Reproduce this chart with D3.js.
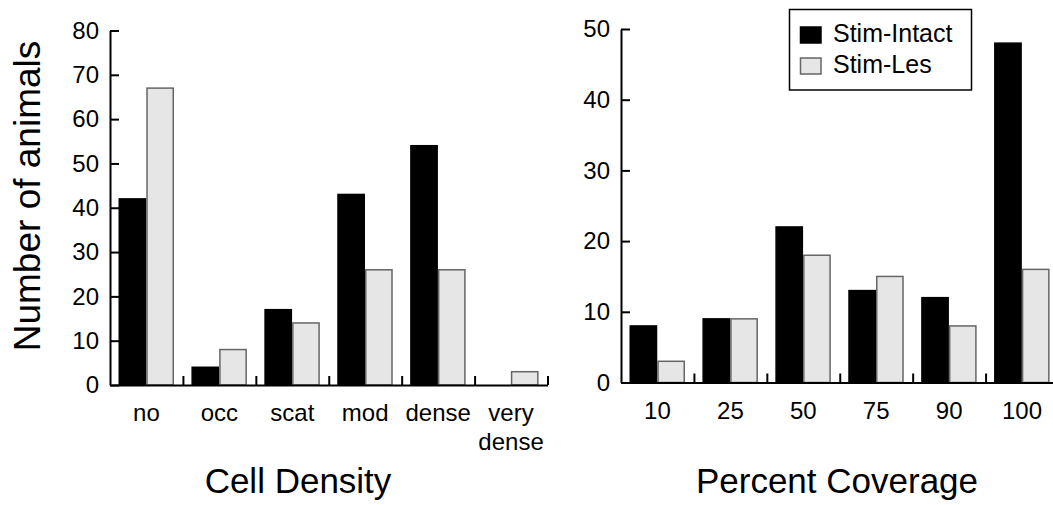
<!DOCTYPE html>
<html>
<head>
  <meta charset="utf-8">
  <title>Cell density and percent coverage</title>
  <script src="https://d3js.org/d3.v7.min.js"></script>
  <style>
    body { margin: 0; background: #fff; }
    svg { display: block; font-family: "Liberation Sans", Arial, Helvetica, sans-serif; }
    .axis path, .axis line { stroke: #000; stroke-width: 2; }
    .axis text { font-size: 24px; fill: #000; }
    .title { font-size: 35px; fill: #000; }
    .legend text { font-size: 25px; fill: #000; }
  </style>
</head>
<body>
<svg id="chart" width="1053" height="505"></svg>
<script>
  // data
  var series = ["Stim-Intact", "Stim-Les"];
  var densityCats = ["no", "occ", "scat", "mod", "dense", "very dense"];
  var densityIntact = [42, 4, 17, 43, 54, 0];
  var densityLes = [67, 8, 14, 26, 26, 3];
  var densityTicks = [0, 10, 20, 30, 40, 50, 60, 70, 80];

  var coverageCats = ["10", "25", "50", "75", "90", "100"];
  var coverageIntact = [8, 9, 22, 13, 12, 48];
  var coverageLes = [3, 9, 18, 15, 8, 16];
  var coverageTicks = [0, 10, 20, 30, 40, 50];

  var colors = { "Stim-Intact": "#000", "Stim-Les": "#e6e6e6" };
  var strokes = { "Stim-Intact": "#000", "Stim-Les": "#666" };

  var svg = d3.select("#chart");

  function panel(opt) {
    var g = svg.append("g");

    var x = d3.scaleBand().domain(opt.cats).range([opt.x0, opt.x1]).padding(0);
    var xs = d3.scaleBand().domain(series).range([8.5, 64]).padding(0);
    var y = d3.scaleLinear().domain([0, opt.ymax]).range([opt.y0, opt.ytop]);

    var rows = opt.cats.map(function (c, i) {
      return { cat: c, values: [opt.a[i], opt.b[i]] };
    });

    // bars
    var grp = g.selectAll(".grp").data(rows).enter().append("g")
      .attr("transform", function (d) { return "translate(" + x(d.cat) + ",0)"; });
    grp.selectAll("rect")
      .data(function (d) { return series.map(function (s, k) { return { s: s, v: d.values[k] }; }); })
      .enter().filter(function (d) { return d.v > 0; }).append("rect")
      .attr("x", function (d) { return xs(d.s) + 0.75; })
      .attr("width", xs.bandwidth() - 1.5)
      .attr("y", function (d) { return y(d.v); })
      .attr("height", function (d) { return y(0) - y(d.v); })
      .attr("fill", function (d) { return colors[d.s]; })
      .attr("stroke", function (d) { return strokes[d.s]; })
      .attr("stroke-width", 1.5);

    // y axis, ticks pointing inward
    g.append("g").attr("class", "axis")
      .attr("transform", "translate(" + opt.x0 + ",0)")
      .call(d3.axisLeft(y).tickValues(opt.ticks).tickSizeInner(-9).tickSizeOuter(0).tickPadding(11));

    // x axis line with boundary ticks
    var xb = d3.scaleLinear().domain([0, opt.cats.length]).range([opt.x0, opt.x1]);
    g.append("g").attr("class", "axis")
      .attr("transform", "translate(0," + opt.y0 + ")")
      .call(d3.axisBottom(xb).tickValues(d3.range(1, opt.cats.length + 1)).tickSizeInner(-9).tickSizeOuter(0).tickFormat(""));

    // category labels
    var lab = g.append("g").attr("class", "axis")
      .attr("transform", "translate(0," + opt.y0 + ")")
      .call(d3.axisBottom(x).tickSize(0).tickPadding(19));
    lab.select(".domain").remove();
    lab.selectAll(".tick text").each(function (d) {
      var words = d.split(" ");
      if (words.length > 1) {
        var t = d3.select(this).text(null);
        words.forEach(function (w, i) {
          t.append("tspan").attr("x", 0).attr("dy", i === 0 ? "0.71em" : "1.2em").text(w);
        });
        t.attr("dy", null);
      }
    });

    g.append("text").attr("class", "title")
      .attr("x", (opt.x0 + opt.titleX) ).attr("y", 493)
      .attr("text-anchor", "middle").text(opt.title);

    return g;
  }

  panel({ cats: densityCats, a: densityIntact, b: densityLes, ticks: densityTicks, ymax: 80,
    x0: 110, x1: 547.5, y0: 385, ytop: 30.5, title: "Cell Density", titleX: 188 });

  panel({ cats: coverageCats, a: coverageIntact, b: coverageLes, ticks: coverageTicks, ymax: 50,
    x0: 621, x1: 1058.5, y0: 382.5, ytop: 29, title: "Percent Coverage", titleX: 216 });

  // y label
  svg.append("text").attr("class", "title")
    .attr("transform", "translate(40,196) rotate(-90)")
    .attr("text-anchor", "middle").style("font-size", "37px")
    .text("Number of animals");

  // legend
  var lg = svg.append("g").attr("class", "legend");
  lg.append("rect").attr("x", 789.5).attr("y", 9.5).attr("width", 182).attr("height", 80.5)
    .attr("fill", "#fff").attr("stroke", "#000").attr("stroke-width", 1.5);
  series.forEach(function (s, i) {
    lg.append("rect").attr("x", 800.5).attr("y", 27 + i * 31).attr("width", 20.5).attr("height", 16)
      .attr("fill", colors[s]).attr("stroke", strokes[s]).attr("stroke-width", 1.5);
    lg.append("text").attr("x", 833).attr("y", 42 + i * 31).text(s);
  });
</script>
</body>
</html>
